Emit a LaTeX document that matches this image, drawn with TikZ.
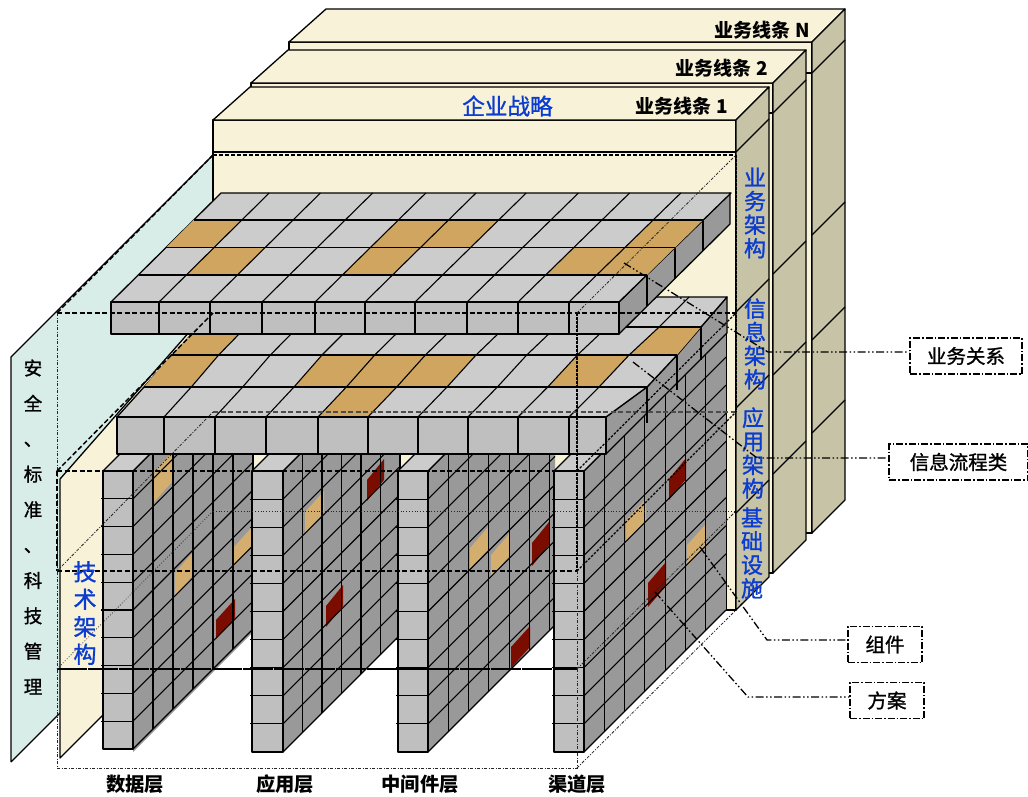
\documentclass[tikz,border=0pt]{standalone}
\usepackage{fontspec}
\setmainfont{Noto Sans CJK SC}
\newfontfamily\gruesa[FakeBold=1.2]{Noto Sans CJK SC}
\usepackage{xcolor}
\usetikzlibrary{calc}
\definecolor{Crema}{HTML}{F7F2D8}
\definecolor{Caqui}{HTML}{C7C3A6}
\definecolor{Menta}{HTML}{D9EDE8}
\definecolor{GrisTapa}{HTML}{CCCCCC}
\definecolor{GrisFrente}{HTML}{BFBFBF}
\definecolor{GrisLado}{HTML}{999999}
\definecolor{Ocre}{HTML}{CFA55F}
\definecolor{Granate}{HTML}{7B0C00}
\definecolor{Azul}{HTML}{0A3CD2}
\tikzset{
  borde/.style={draw=black,line width=1.3pt,line join=round},
  rejilla/.style={draw=black,line width=1.1pt,line join=round},
  guiafuerte/.style={black,line width=1.5pt,dash pattern=on 5pt off 2.5pt},
  guiapunto/.style={black,line width=1.5pt,dash pattern=on 2.5pt off 1.5pt},
  guiafina/.style={black!85,line width=.8pt,dash pattern=on 3pt off 1.5pt on 1pt off 1.5pt},
  lider/.style={black,line width=1.3pt,dash pattern=on 8pt off 2.5pt on 1.5pt off 2.5pt on 1.5pt off 2.5pt},
  cuadro/.style={draw=black,line width=1.4pt,dash pattern=on 7pt off 2pt on 1.5pt off 2pt,minimum height=36pt,font=\gruesa\fontsize{19.5}{20}\selectfont},
  linea/.style={font=\fontsize{19}{20}\bfseries\selectfont},
  capa/.style={font=\fontsize{19.3}{20}\bfseries\selectfont},
  azules/.style={text=Azul,align=center,inner sep=0pt,font=\gruesa\fontsize{22}{23.6}\selectfont},
}
\begin{document}
\begin{tikzpicture}[x=1pt,y=-1pt]
  \useasboundingbox (0,0) rectangle (1028,796);
  \fill[Menta] (11,357)--(213,155)--(213,560)--(11,762)--cycle;
  \draw[borde] (11,762)--(11,357)--(213,155) (11,762)--(60,713);
  % lineas de negocio, de atras hacia delante
  \foreach \xa/\xb/\yt/\ybase/\da/\db/\dc/\dd in {
      289/812/9/533/73/235/340/433,
      251/773/50/573/113/274/375/474,
      213/736/87/610/152/312/408/513}{
    \pgfmathsetmacro{\yf}{\yt+33}
    \pgfmathsetmacro{\xd}{\xb+33}
    \filldraw[borde,fill=Crema] (\xa,\yf) rectangle (\xb,\ybase);
    \filldraw[borde,fill=Crema] (\xa,\yf)--(\xa+37,\yt)--(\xd,\yt)--(\xb,\yf)--cycle;
    \draw[borde] (\xa,\da)--(\xb,\da);
    \filldraw[borde,fill=Caqui] (\xb,\yf)--(\xd,\yt)--(\xd,\ybase-33)--(\xb,\ybase)--cycle;
    \foreach \d in {\da,\db,\dc,\dd}
      \draw[borde] (\xb,\d)--(\xd,\d-33);
    \draw[borde] (\xb-10,\ybase)--(\xb-10,\ybase-300);
  }
  \filldraw[borde,fill=Crema] (60,479)--(213,305)--(213,605)--(60,758)--cycle;
  % muros y columnas
  \foreach \xa/\xe in {133/253,283/399,428/555,584/726}
    \fill[GrisLado] (\xa,471)--(\xe,471-\xe+\xa)--(\xe,752-\xe+\xa)--(\xa,752)--cycle;
  \foreach \a/\b/\c/\d in {154/173/472/502,234/253/547/565,175/193/573/596,305/324/512/533,
      470/488/548/570,491/509/555/577,626/646/520/541,687/706/545/566}
    \fill[Ocre!90!white] (\a,\c)--(\b,\c-21)--(\b,\d-21)--(\a,\d)--cycle;
  \foreach \a/\b/\c/\d in {216/235/620/639,367/384/480/501,326/343/606/627,
      532/549/543/566,511/530/647/668,669/686/479/500,648/666/583/607}
    \fill[Granate] (\a,\c)--(\b,\c-21)--(\b,\d-21)--(\a,\d)--cycle;
  \foreach \xc/\xa/\xe/\n/\dx/\yb in {103/133/253/6/20/749,252/283/399/6/19.5/752,398/428/555/6/20.3/752,554/584/726/7/20.3/752}{
    \foreach \k in {0,...,\n}{
      \pgfmathsetmacro{\xk}{\xa+\k*\dx}
      \draw[rejilla] (\xk,471-\k*\dx)--(\xk,\yb-\k*\dx);
    }
    \foreach \k in {0,...,10}{
      \pgfmathsetmacro{\yk}{471+\k*(\yb-471)/10}
      \draw[rejilla] (\xa,\yk)--(\xe,\yk-\xe+\xa);
    }
    \filldraw[rejilla,fill=GrisTapa] (\xc,471)--(\xa,471)--(\xa+17,454)--(\xc+17,454)--cycle;
    \filldraw[rejilla,fill=GrisFrente] (\xc,471) rectangle (\xa,\yb);
    \foreach \k in {1,...,9}{
      \pgfmathsetmacro{\yk}{471+\k*(\yb-471)/10}
      \draw[rejilla] (\xc-2,\yk)--(\xa,\yk);
    }
  }
  % bandeja inferior
  \foreach \i/\xf in {0/117,1/164,2/215,3/266,4/318,5/368,6/418,7/468,8/518,9/569}
    \foreach \j/\y/\t in {0/417/0,1/387/.25,2/355/.5,3/327/.75,4/297/1}
      \coordinate (b-\i-\j) at ({\xf+(225+(\xf-117)*1.027-\xf)*\t},\y);
  \coordinate (b-10-0) at (606,417);
  \coordinate (b-10-1) at (647,387);
  \coordinate (b-10-2) at (677,355);
  \coordinate (b-10-3) at (701,327);
  \coordinate (b-10-4) at (727,297);
  \filldraw[borde,fill=GrisLado] (b-10-0)--(b-10-1)--(b-10-2)--(b-10-3)--(b-10-4)--(727,333)--(606,454)--cycle;
  \draw[rejilla] (647,387)--(647,423) (677,355)--(677,390) (701,327)--(701,360);
  \filldraw[borde,fill=GrisTapa] (b-0-0)--(b-10-0)--(b-10-1)--(b-10-2)--(b-10-3)--(b-10-4)--(b-0-4)--cycle;
  \foreach \i/\j in {0/1,0/2,3/1,4/1,5/1,8/1,4/0,9/2}{
    \pgfmathtruncatemacro{\ii}{\i+1}
    \pgfmathtruncatemacro{\jj}{\j+1}
    \fill[Ocre] (b-\i-\j)--(b-\ii-\j)--(b-\ii-\jj)--(b-\i-\jj)--cycle;
  }
  \foreach \i in {1,...,9}
    \draw[rejilla] (b-\i-0)--(b-\i-1)--(b-\i-2)--(b-\i-3)--(b-\i-4);
  \foreach \j in {1,...,3}
    \draw[rejilla] (b-0-\j)--(b-10-\j);
  \filldraw[borde,fill=GrisFrente] (117,417) rectangle (606,454);
  \foreach \x in {164,215,266,318,368,418,468,518,569}
    \draw[rejilla] (\x,417)--(\x,454);
  % bandeja superior
  \foreach \i/\xf in {0/111,1/159,2/210,3/262,4/315,5/365,6/415,7/467,8/518,9/569,10/619}
    \foreach \j/\y/\t in {0/302/0,1/275/.25,2/247.5/.5,3/220/.75,4/193/1}
      \coordinate (a-\i-\j) at ({\xf+(221+(\xf-111)*1.004-\xf)*\t},\y);
  \filldraw[borde,fill=GrisLado] (619,302)--(730,193)--(730,224)--(619,334)--cycle;
  \foreach \j in {1,2,3}
    \draw[rejilla] (a-10-\j)--++(0,31);
  \filldraw[borde,fill=GrisTapa] (a-0-0)--(a-10-0)--(a-10-4)--(a-0-4)--cycle;
  \foreach \i/\j in {0/2,1/1,4/1,4/2,5/2,8/1,9/1,9/2}{
    \pgfmathtruncatemacro{\ii}{\i+1}
    \pgfmathtruncatemacro{\jj}{\j+1}
    \fill[Ocre] (a-\i-\j)--(a-\ii-\j)--(a-\ii-\jj)--(a-\i-\jj)--cycle;
  }
  \foreach \i in {1,...,9}
    \draw[rejilla] (a-\i-0)--(a-\i-4);
  \foreach \j in {1,...,3}
    \draw[rejilla] (a-0-\j)--(a-10-\j);
  \filldraw[borde,fill=GrisFrente] (111,302) rectangle (619,334);
  \foreach \x in {159,210,262,315,365,415,467,518,569}
    \draw[rejilla] (\x,302)--(\x,334);
  % cubo punteado
  \draw[guiafuerte,line width=1.5pt,dash pattern=on 4pt off 2pt] (213,155)--(736,155);
  \draw[guiafuerte] (57,313)--(736,313);
  \draw[guiafuerte] (57,471)--(577,471);
  \draw[guiafuerte] (57,571)--(577,571);
  \draw[guiafuerte,line width=2pt,dash pattern=on 30pt off 1pt] (57,669)--(577,669);
  \draw[guiafuerte,line width=1.1pt,black!70] (213,412)--(736,412);
  \draw[guiafina,dotted] (213,511)--(736,511);
  \draw[guiafina] (57,313)--(57,768)--(577,768)--(577,313);
  \draw[guiafuerte] (57,471)--(57,571);
  \draw[guiapunto] (577,313)--(577,571);
  \draw[guiapunto] (736,155)--(736,412);
  \draw[guiafuerte] (57,313)--(213,155);
  \draw[guiafuerte] (57,471)--(213,313);
  \draw[guiafina] (57,571)--(213,412);
  \draw[guiafina,dotted] (57,669)--(213,511);
  \draw[guiafina] (577,313)--(736,155);
  \draw[guiapunto,line width=1.2pt] (577,471)--(736,313);
  \draw[guiapunto,line width=1.2pt] (577,571)--(736,412);
  \draw[guiafina] (577,669)--(736,511);
  \draw[guiafina] (577,768)--(736,610);
  % rotulos
  \node[text=Azul,font=\gruesa\fontsize{22.6}{24}\selectfont,inner sep=0pt] (estrategia) at (507.5,106) {企业战略};
  \node[linea,anchor=east,inner sep=0pt] (lineaN) at (810,30) {业务线条 N};
  \node[linea,anchor=east,inner sep=0pt] (linea2) at (768,68) {业务线条 2};
  \node[linea,anchor=east,inner sep=0pt] (linea1) at (728,106) {业务线条 1};
  \node[azules] (negocio) at (755,213) {业\\务\\架\\构};
  \node[azules] (informacion) at (755,344) {信\\息\\架\\构};
  \node[azules] (aplicacion) at (753,453) {应\\用\\架\\构};
  \node[azules] (infra) at (752,553) {基\\础\\设\\施};
  \node[azules,font=\gruesa\fontsize{23}{27.5}\selectfont] (tecnica) at (85,613) {技\\术\\架\\构};
  \node[align=center,inner sep=0pt,font=\gruesa\fontsize{18.5}{35.4}\selectfont] (gestion) at (33,527) {安\\全\\、\\标\\准\\、\\科\\技\\管\\理};
  \node[capa] (datos) at (135,784) {数据层};
  \node[capa] (aplic) at (285,784) {应用层};
  \node[capa] (medio) at (420,784) {中间件层};
  \node[capa] (canal) at (577,784) {渠道层};
  % etiquetas y lideres
  \node[cuadro,minimum width=112pt] (relacion) at (966,356) {业务关系};
  \node[cuadro,minimum width=139pt] (flujo) at (958.5,462) {信息流程类};
  \node[cuadro,minimum width=74pt] (componente) at (885,644.5) {组件};
  \node[cuadro,minimum width=74pt] (solucion) at (887,700.5) {方案};
  \coordinate (relacionO) at (624,263);
  \coordinate (relacionC) at (768,352);
  \coordinate (flujoO) at (633,362);
  \coordinate (flujoC) at (757,458);
  \coordinate (componenteO) at (700,547);
  \coordinate (componenteC) at (767,640);
  \coordinate (solucionO) at (655,592);
  \coordinate (solucionC) at (748,697);
  \draw[lider] (relacionO)--(relacionC)--(relacion.west|-relacionC);
  \draw[lider] (flujoO)--(flujoC)--(flujo.west|-flujoC);
  \draw[lider] (componenteO)--(componenteC)--(componente.west|-componenteC);
  \draw[lider] (solucionO)--(solucionC)--(solucion.west|-solucionC);
\end{tikzpicture}
\end{document}
